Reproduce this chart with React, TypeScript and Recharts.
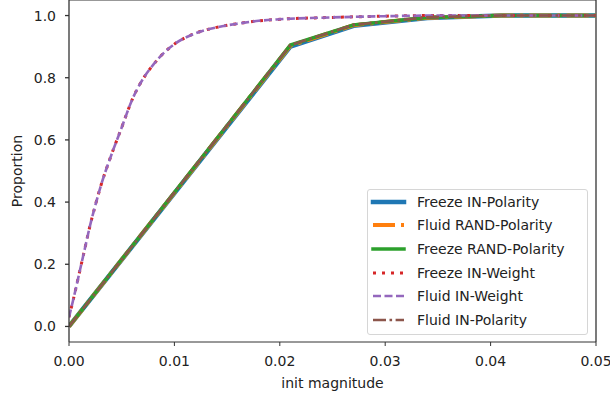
import React from 'react';
import { LineChart, Line, XAxis, YAxis, Legend, ReferenceLine } from 'recharts';

// x values where the polarity runs were sampled
const stepX = [0, 0.021, 0.027, 0.034, 0.041, 0.05];
const freezeInPolarity = [0, 0.9, 0.967, 0.992, 1.0, 1.0];
const fluidRandPolarity = [0, 0.903, 0.969, 0.993, 1.0, 1.0];
const freezeRandPolarity = [0, 0.905, 0.97, 0.994, 1.0, 1.0];
const fluidInPolarity = [0, 0.905, 0.97, 0.994, 1.0, 1.0];

// x values for the weight runs
const curveX = [
  0, 0.0005, 0.001, 0.0015, 0.002, 0.0025, 0.003, 0.004, 0.005, 0.006, 0.007, 0.008,
  0.009, 0.01, 0.012, 0.014, 0.016, 0.018, 0.02, 0.025, 0.03, 0.035, 0.04, 0.05,
];
const freezeInWeight = [
  0.03, 0.1, 0.175, 0.25, 0.325, 0.39, 0.45, 0.55, 0.64, 0.73, 0.795, 0.842,
  0.88, 0.908, 0.943, 0.962, 0.974, 0.983, 0.988, 0.994, 0.998, 1.0, 1.0, 1.0,
];
const fluidInWeight = [
  0.03, 0.1, 0.175, 0.25, 0.325, 0.39, 0.45, 0.55, 0.64, 0.73, 0.795, 0.842,
  0.88, 0.908, 0.943, 0.962, 0.974, 0.983, 0.988, 0.994, 0.998, 1.0, 1.0, 1.0,
];

const xTicks = [0, 0.01, 0.02, 0.03, 0.04, 0.05];
const yTicks = [0, 0.2, 0.4, 0.6, 0.8, 1.0];

const stepData = stepX.map((x, i) => ({
  x,
  freezeInPolarity: freezeInPolarity[i],
  fluidRandPolarity: fluidRandPolarity[i],
  freezeRandPolarity: freezeRandPolarity[i],
  fluidInPolarity: fluidInPolarity[i],
}));

const curveData = curveX.map((x, i) => ({
  x,
  freezeInWeight: freezeInWeight[i],
  fluidInWeight: fluidInWeight[i],
}));

// drawing order matches the legend order
const series = [
  { key: 'freezeInPolarity', name: 'Freeze IN-Polarity', color: '#1f77b4', width: 4.5, dash: undefined, data: stepData, curve: 'linear' },
  { key: 'fluidRandPolarity', name: 'Fluid RAND-Polarity', color: '#ff7f0e', width: 4, dash: '22 6 3.5 6', data: stepData, curve: 'linear' },
  { key: 'freezeRandPolarity', name: 'Freeze RAND-Polarity', color: '#2ca02c', width: 3.5, dash: undefined, data: stepData, curve: 'linear' },
  { key: 'freezeInWeight', name: 'Freeze IN-Weight', color: '#d62728', width: 3, dash: '3 6', data: curveData, curve: 'monotone' },
  { key: 'fluidInWeight', name: 'Fluid IN-Weight', color: '#9467bd', width: 2.6, dash: '8 3.5', data: curveData, curve: 'monotone' },
  { key: 'fluidInPolarity', name: 'Fluid IN-Polarity', color: '#8c564b', width: 2.6, dash: '13 3.5 2.6 3.5', data: stepData, curve: 'linear' },
];

const FONT = "'DejaVu Sans', sans-serif";
const INK = '#222';

const renderLegend = () => (
  <div
    style={{
      width: 221,
      height: 146,
      boxSizing: 'border-box',
      border: '1px solid #d6d6d6',
      borderRadius: 3,
      background: 'rgba(255,255,255,0.8)',
      fontFamily: FONT,
      fontSize: 14,
      color: INK,
    }}
  >
    {series.map((s) => (
      <div key={s.key} style={{ height: 23.6, display: 'flex', alignItems: 'center' }}>
        <svg width={49} height={12} style={{ flex: 'none' }}>
          <line
            x1={5}
            x2={36}
            y1={6}
            y2={6}
            stroke={s.color}
            strokeWidth={s.width}
            strokeDasharray={s.dash}
            strokeLinecap={s.dash ? 'butt' : 'square'}
          />
        </svg>
        <span style={{ lineHeight: 1, whiteSpace: 'nowrap' }}>{s.name}</span>
      </div>
    ))}
  </div>
);

export default function App() {
  return (
    <div style={{ position: 'absolute', left: 0, top: 0, width: 610, height: 400, background: '#fff' }}>
      <LineChart width={610} height={400} margin={{ top: 0, right: 14, bottom: 0, left: 0 }}>
        <XAxis
          dataKey="x"
          type="number"
          domain={[0, 0.05]}
          ticks={xTicks}
          allowDataOverflow
          height={58}
          tickSize={4}
          tickMargin={10}
          tickFormatter={(v: number) => v.toFixed(2)}
          stroke="#333"
          tick={{ fill: INK, fontSize: 14, fontFamily: FONT }}
          label={{
            value: 'init magnitude',
            position: 'insideBottom',
            offset: 12,
            style: { fill: INK, fontSize: 14, fontFamily: FONT },
          }}
        />
        <YAxis
          type="number"
          domain={[-0.05, 1.05]}
          ticks={yTicks}
          allowDataOverflow
          width={69}
          tickSize={4}
          tickMargin={9}
          tickFormatter={(v: number) => v.toFixed(1)}
          stroke="#333"
          strokeWidth={1.3}
          tick={{ fill: INK, fontSize: 14, fontFamily: FONT }}
          label={{
            value: 'Proportion',
            angle: -90,
            position: 'insideLeft',
            offset: 17,
            style: { fill: INK, fontSize: 14, fontFamily: FONT, textAnchor: 'middle' },
          }}
        />
        <ReferenceLine y={1.05} stroke="#333" strokeWidth={1} />
        <ReferenceLine x={0.05} stroke="#333" strokeWidth={1.3} />
        {series.map((s) => (
          <Line
            key={s.key}
            data={s.data}
            dataKey={s.key}
            name={s.name}
            type={s.curve as 'linear' | 'monotone'}
            stroke={s.color}
            strokeWidth={s.width}
            strokeDasharray={s.dash}
            dot={false}
            activeDot={false}
            isAnimationActive={false}
          />
        ))}
        <Legend
          layout="vertical"
          align="center"
          verticalAlign="middle"
          content={renderLegend}
          wrapperStyle={{ left: 367, top: 189, width: 221, height: 146 }}
        />
      </LineChart>
    </div>
  );
}
